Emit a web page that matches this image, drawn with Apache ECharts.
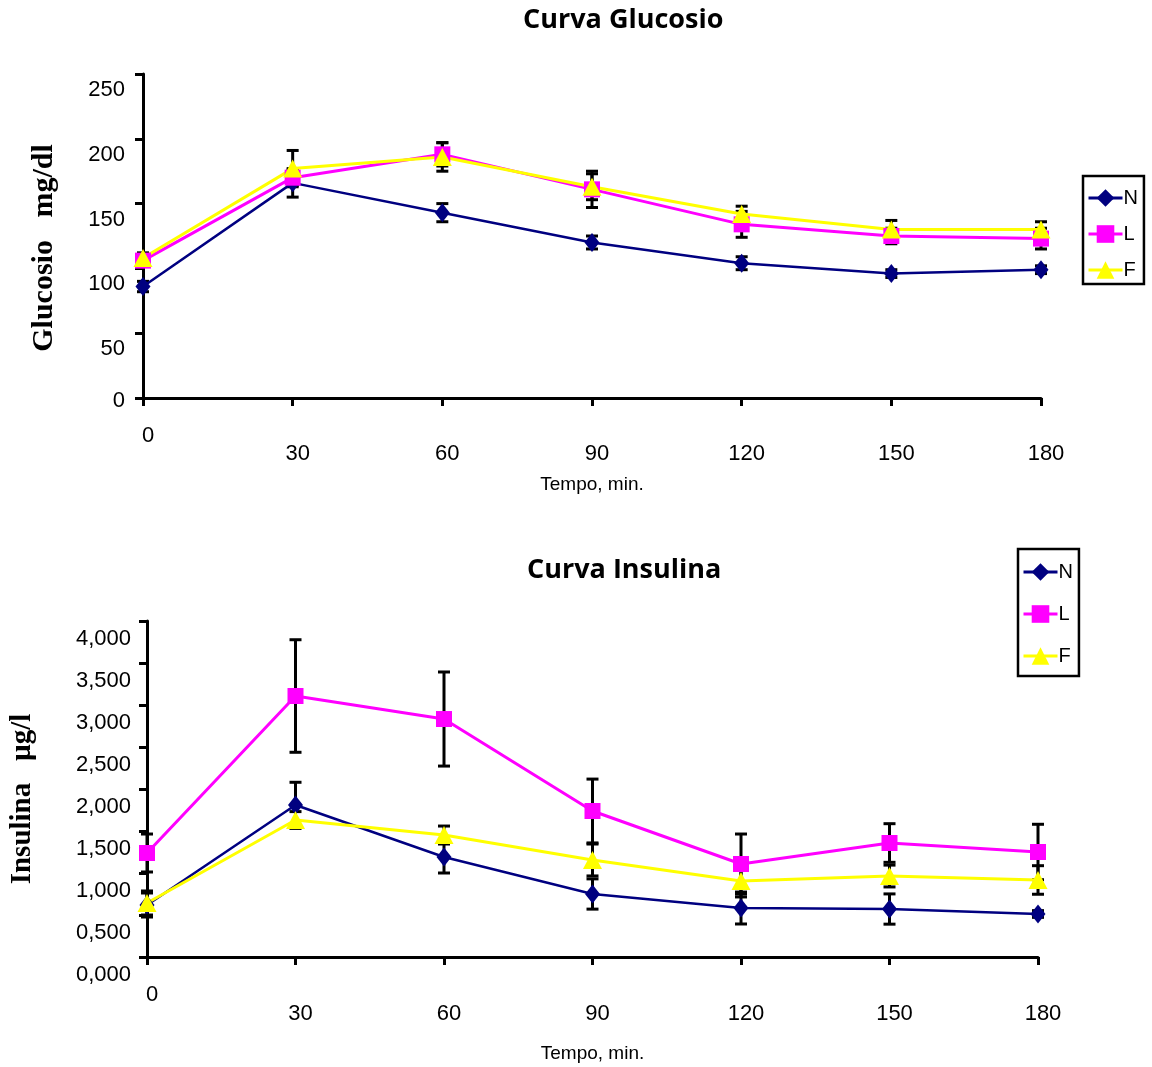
<!DOCTYPE html>
<html>
<head>
<meta charset="utf-8">
<script src="https://cdn.jsdelivr.net/npm/echarts@6/dist/echarts.min.js"></script>
<style>
  html, body { margin: 0; padding: 0; background: #fff; }
  #chart { width: 1152px; height: 1067px; }
</style>
</head>
<body>
<div id="chart"></div>
<script>
// time points (min)
const times = [0, 30, 60, 90, 120, 150, 180];

// glucose curve, mg/dl
const glucN = [86, 166, 143, 120, 104, 96, 99];
const glucL = [106, 170, 188, 161, 134, 125, 123];
const glucF = [108, 177, 186, 163, 142, 130, 130];
const glucErrN = [4, 11, 7, 5, 5, 3, 3];
const glucErrL = [4, 6, 9, 14, 10, 6, 8];
const glucErrF = [4, 14, 11, 10, 6, 7, 6];

// insulin curve
const insN = [619, 1810, 1190, 750, 583, 571, 512];
const insL = [1238, 3107, 2833, 1738, 1107, 1357, 1250];
const insF = [643, 1631, 1452, 1155, 905, 964, 917];
const insErrN = [143, 270, 190, 180, 190, 180, 40];
const insErrL = [226, 670, 560, 380, 357, 230, 330];
const insErrF = [143, 100, 107, 190, 190, 130, 170];

const seriesNames = ['N', 'L', 'F'];
const colors = { N: '#000080', L: '#FF00FF', F: '#FFFF00' };
const symbols = { N: 'diamond', L: 'rect', F: 'triangle' };
const symbolSizes = { N: [15, 19], L: [16, 16], F: [19, 18] };

const labelFont = 'Liberation Sans, Arial, sans-serif';
const serifFont = 'Liberation Serif, Times New Roman, serif';
const titleFont = 'Open Sans, sans-serif';

const pairs = (vals) => times.map((t, i) => [t, vals[i]]);
const errPairs = (vals, errs) => times.map((t, i) => [t, vals[i] - errs[i], vals[i] + errs[i]]);

// draws a vertical error bar with caps
function renderErr(params, api) {
  const x = api.value(0);
  const top = api.coord([x, api.value(2)]);
  const bot = api.coord([x, api.value(1)]);
  const w = 6;
  const style = { stroke: '#000', lineWidth: 3 };
  return {
    type: 'group',
    children: [
      { type: 'line', shape: { x1: top[0], y1: top[1], x2: bot[0], y2: bot[1] }, style },
      { type: 'line', shape: { x1: top[0] - w, y1: top[1], x2: top[0] + w, y2: top[1] }, style },
      { type: 'line', shape: { x1: bot[0] - w, y1: bot[1], x2: bot[0] + w, y2: bot[1] }, style }
    ]
  };
}

function lineSeries(name, vals, idx) {
  return {
    name: name,
    type: 'line',
    xAxisIndex: idx,
    yAxisIndex: idx,
    data: pairs(vals),
    symbol: symbols[name],
    symbolSize: symbolSizes[name],
    showAllSymbol: true,
    color: colors[name],
    lineStyle: { color: colors[name], width: name === 'N' ? 2.5 : 3 },
    itemStyle: { color: colors[name] },
    z: 3
  };
}

function errSeries(vals, errs, idx) {
  return {
    type: 'custom',
    xAxisIndex: idx,
    yAxisIndex: idx,
    renderItem: renderErr,
    encode: { x: 0, y: [1, 2] },
    data: errPairs(vals, errs),
    silent: true,
    z: 2
  };
}

function xAxisFor(idx, nameGap, drop) {
  return {
    gridIndex: idx,
    type: 'value',
    min: 0,
    max: 180,
    interval: 30,
    name: 'Tempo, min.',
    nameLocation: 'middle',
    nameGap: nameGap,
    nameTextStyle: { fontFamily: labelFont, fontSize: 19, color: '#000' },
    axisLine: { lineStyle: { color: '#000', width: 3 } },
    axisTick: { length: 8, lineStyle: { color: '#000', width: 3 } },
    splitLine: { show: false },
    axisLabel: {
      margin: 27,
      formatter: (v) => (v === 0 ? '{z|0}' : '{t|' + v + '}'),
      rich: {
        z: { fontFamily: labelFont, fontSize: 22, color: '#000', padding: [0, 0, 0, 10] },
        t: { fontFamily: labelFont, fontSize: 22, color: '#000', padding: [drop, 0, 0, 10] }
      }
    }
  };
}

function legendFor(left, top, gap, pad) {
  return {
    data: seriesNames,
    orient: 'vertical',
    left: left,
    top: top,
    padding: pad,
    itemGap: gap,
    itemWidth: 34,
    itemHeight: 22,
    borderColor: '#000',
    borderWidth: 2.5,
    borderRadius: 0,
    lineStyle: { width: 3 },
    textStyle: { fontFamily: labelFont, fontSize: 20, color: '#000', padding: [0, 0, 0, -4] },
    selectedMode: false
  };
}

const option = {
  backgroundColor: '#fff',
  animation: false,
  title: [
    {
      text: 'Curva Glucosio',
      left: 518,
      top: 2,
      textStyle: { fontFamily: titleFont, fontWeight: 'bold', fontSize: 27, color: '#000' }
    },
    {
      text: 'Curva Insulina',
      left: 522,
      top: 552,
      textStyle: { fontFamily: titleFont, fontWeight: 'bold', fontSize: 27, color: '#000' }
    }
  ],
  legend: [
    legendFor(1083, 176, 16, [12, 6, 4, 4]),
    legendFor(1018, 549, 22, [13, 6, 10, 4])
  ],
  grid: [
    { left: 143, right: 111, top: 74, bottom: 669 },
    { left: 147, right: 114, top: 621, bottom: 110 }
  ],
  xAxis: [xAxisFor(0, 77, 18), xAxisFor(1, 87, 19)],
  yAxis: [
    {
      gridIndex: 0,
      type: 'value',
      min: 0,
      max: 250,
      interval: 50,
      name: 'Glucosio   mg/dl',
      nameLocation: 'middle',
      nameGap: 84,
      nameTextStyle: { fontFamily: serifFont, fontWeight: 'bold', fontSize: 30, color: '#000', padding: [0, 24, 0, 0] },
      axisLine: { show: true, lineStyle: { color: '#000', width: 3 } },
      axisTick: { show: true, length: 8, lineStyle: { color: '#000', width: 3 } },
      splitLine: { show: false },
      axisLabel: {
        margin: 18,
        formatter: (v) => (v === 0 ? '{z|0}' : '{t|' + v + '}'),
        rich: {
          z: { fontFamily: labelFont, fontSize: 22, color: '#000', padding: [6, 0, 0, 0] },
          t: { fontFamily: labelFont, fontSize: 22, color: '#000', padding: [32, 0, 0, 0] }
        }
      }
    },
    {
      gridIndex: 1,
      type: 'value',
      min: 0,
      max: 4000,
      interval: 500,
      name: 'Insulina   µg/l',
      nameLocation: 'middle',
      nameGap: 110,
      nameTextStyle: { fontFamily: serifFont, fontWeight: 'bold', fontSize: 29, color: '#000', padding: [0, 20, 0, 0] },
      axisLine: { show: true, lineStyle: { color: '#000', width: 3 } },
      axisTick: { show: true, length: 8, lineStyle: { color: '#000', width: 3 } },
      splitLine: { show: false },
      axisLabel: {
        margin: 16,
        formatter: (v) => '{t|' + (v / 1000).toFixed(3).replace('.', ',') + '}',
        rich: {
          t: { fontFamily: labelFont, fontSize: 22, color: '#000', padding: [36, 0, 0, 0] }
        }
      }
    }
  ],
  series: [
    errSeries(glucN, glucErrN, 0),
    errSeries(glucL, glucErrL, 0),
    errSeries(glucF, glucErrF, 0),
    lineSeries('N', glucN, 0),
    lineSeries('L', glucL, 0),
    lineSeries('F', glucF, 0),
    errSeries(insN, insErrN, 1),
    errSeries(insL, insErrL, 1),
    errSeries(insF, insErrF, 1),
    lineSeries('N', insN, 1),
    lineSeries('L', insL, 1),
    lineSeries('F', insF, 1)
  ]
};

const chart = echarts.init(document.getElementById('chart'));
chart.setOption(option);
</script>
</body>
</html>
